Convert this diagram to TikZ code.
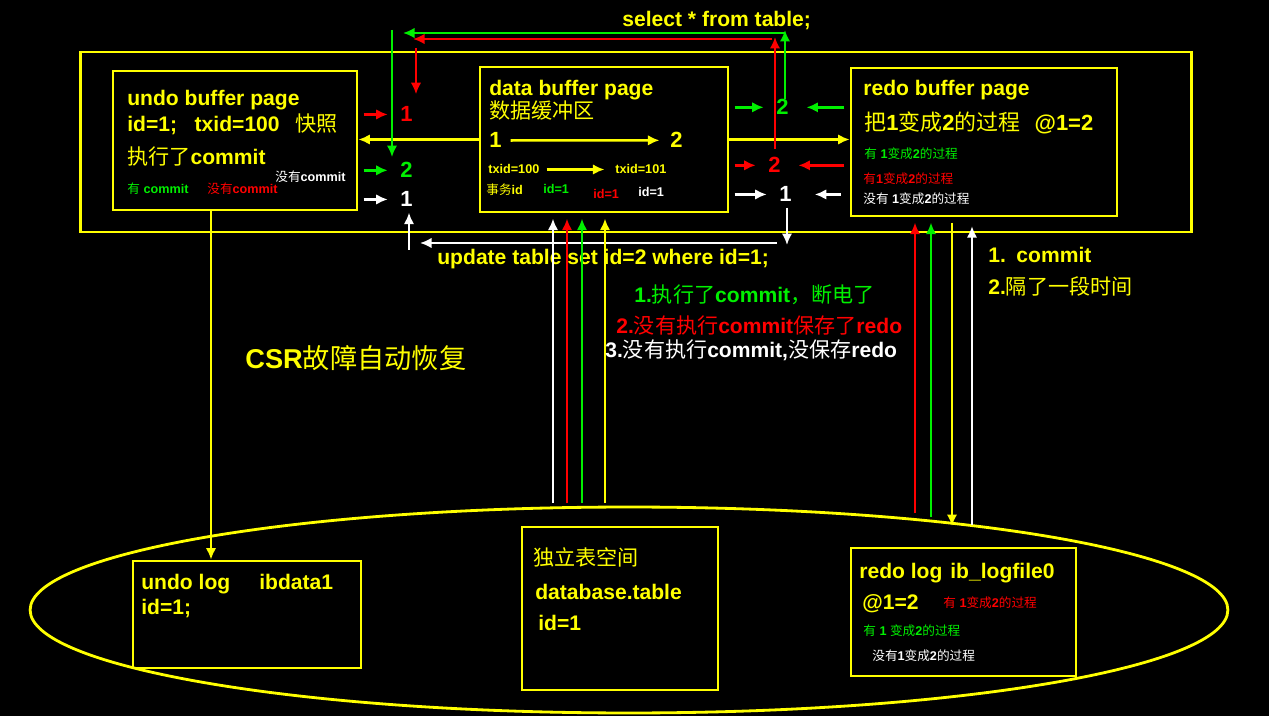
\documentclass[tikz,border=0pt]{standalone}
\usepackage{fontspec}
\setmainfont{Liberation Sans}
\newfontfamily\cjk{Noto Sans CJK SC}
\usepackage{xcolor}
\usetikzlibrary{arrows.meta,shapes.geometric}
\definecolor{hlyellow}{HTML}{FFFF00}
\definecolor{hlgreen}{HTML}{00F000}
\definecolor{hlred}{HTML}{FF0000}
\newcommand{\zh}[1]{{\cjk\mdseries #1}}
\newcommand{\bigfont}{\fontsize{12}{14}\selectfont\bfseries}
\newcommand{\smallfont}{\fontsize{7.2}{8}\selectfont\bfseries}
\tikzset{
  pagebox/.style={rectangle,draw=hlyellow,line width=1.6pt,inner sep=0pt},
  txt/.style={anchor=base west,inner sep=0pt,text=hlyellow,font=\bigfont},
  smalltxt/.style={anchor=base west,inner sep=0pt,font=\smallfont},
  num/.style={anchor=base west,inner sep=0pt,font=\fontsize{12.5}{14}\selectfont\bfseries},
  arrow/.style={-{Latex[length=2.3mm,width=2.1mm]},line width=1.5pt},
  gap/.style={shorten <=3pt,shorten >=7pt}
}

\begin{document}
\begin{tikzpicture}[x=0.02cm,y=-0.02cm]
  \fill[black] (0,0) rectangle (1269,716);
  % buffer pool
  \node[pagebox,minimum width=22.24cm,minimum height=3.6cm] (pool) at (636,142) {};
  \node[pagebox,minimum width=4.88cm,minimum height=2.78cm] (undo) at (235,140.5) {};
  \node[pagebox,minimum width=4.96cm,minimum height=2.9cm] (data) at (604,139.5) {};
  \node[pagebox,minimum width=5.32cm,minimum height=2.96cm] (redo) at (984,142) {};
  % disk
  \node[ellipse,draw=hlyellow,line width=1.6pt,inner sep=0pt,minimum width=23.96cm,minimum height=4.12cm] (disk) at (629,610) {};
  \node[pagebox,minimum width=4.56cm,minimum height=2.14cm] (undolog) at (247,614.5) {};
  \node[pagebox,minimum width=3.92cm,minimum height=3.26cm] (tbspace) at (620,608.5) {};
  \node[pagebox,minimum width=4.5cm,minimum height=2.56cm] (redolog) at (963.5,612) {};

  % undo buffer page
  \node[txt] (undoT) at (127,106) {undo buffer page};
  \node[txt] (undoId) at (127,132) {id=1;\hspace{10pt}txid=100\hspace{9pt}\zh{快照}};
  \node[txt] (undoC) at (127,165) {\zh{执行了}commit};
  \node[smalltxt,text=white] (undoW) at (275,182) {\zh{没有}commit};
  \node[smalltxt,text=hlgreen] (undoG) at (127,194) {\zh{有} commit};
  \node[smalltxt,text=hlred] (undoR) at (207,194) {\zh{没有}commit};

  % data buffer page
  \node[txt] (dataT) at (489,96) {data buffer page};
  \node[txt] (dataZh) at (489,119) {\zh{数据缓冲区}};
  \node[num,text=hlyellow] (d1) at (489,148) {1};
  \node[num,text=hlyellow] (d2) at (670,148) {2};
  \draw[arrow,hlyellow,shorten <=5pt,shorten >=6pt] (d1) -- (d2);
  \node[smalltxt,text=hlyellow] (tx1) at (488,174) {txid=100};
  \node[smalltxt,text=hlyellow] (tx2) at (615,174) {txid=101};
  \draw[arrow,hlyellow,shorten <=4pt,shorten >=6pt] (tx1) -- (tx2);
  \node[smalltxt,text=hlyellow] (txN) at (486,195) {\zh{事务}id};
  \node[smalltxt,text=hlgreen] (idG) at (543,194) {id=1};
  \node[smalltxt,text=hlred] (idR) at (593,199) {id=1};
  \node[smalltxt,text=white] (idW) at (638,197) {id=1};

  % redo buffer page
  \node[txt] (redoT) at (863,96) {redo buffer page};
  \node[txt,font=\fontsize{12.5}{14}\selectfont\bfseries] (redoZh) at (864,131) {\zh{把}1\zh{变成}2\zh{的过程}\hspace{8pt}@1=2};
  \node[smalltxt,text=hlgreen] (redoG) at (864,159) {\zh{有} 1\zh{变成}2\zh{的过程}};
  \node[smalltxt,text=hlred] (redoR) at (863,184) {\zh{有}1\zh{变成}2\zh{的过程}};
  \node[smalltxt,text=white] (redoW) at (863,204) {\zh{没有} 1\zh{变成}2\zh{的过程}};

  % numbers between the pages
  \node[num,text=hlred] (lr1) at (400,122) {1};
  \node[num,text=hlgreen] (lg2) at (400,178) {2};
  \node[num,text=white] (lw1) at (400,207) {1};
  \node[num,text=hlgreen] (rg2) at (776,115) {2};
  \node[num,text=hlred] (rr2) at (768,173) {2};
  \node[num,text=white] (rw1) at (779,202) {1};

  \draw[arrow,hlred,gap] (undo.east |- lr1) -- (lr1.west);
  \draw[arrow,hlgreen,gap] (undo.east |- lg2) -- (lg2.west);
  \draw[arrow,white,gap] (undo.east |- lw1) -- (lw1.west);
  \draw[arrow,hlyellow] (data.west) -- (data.west -| undo.east);
  \draw[arrow,hlyellow] (data.east) -- (data.east -| redo.west);
  \draw[arrow,hlgreen,gap] (data.east |- rg2) -- (rg2.west);
  \draw[arrow,hlred,gap] (data.east |- rr2) -- (rr2.west);
  \draw[arrow,white,gap] (data.east |- rw1) -- (rw1.west);
  \draw[arrow,hlgreen,gap,shorten >=10pt] (redo.west |- rg2) -- (rg2.east);
  \draw[arrow,hlred,gap,shorten >=10pt] (redo.west |- rr2) -- (rr2.east);
  \draw[arrow,white,shorten <=5pt,shorten >=13pt] (redo.west |- rw1) -- (rw1.east);

  % select * from table;
  \node[txt] (selT) at (622,27) {select * from table;};
  \coordinate (gUp) at (785,30);
  \coordinate (gTopR) at (785,33);
  \coordinate (gTopL) at (403,33);
  \coordinate (gDown) at (392,30);
  \draw[arrow,hlgreen] (rg2.north -| gUp) -- (gUp);
  \draw[arrow,hlgreen] (gTopR) -- (gTopL);
  \draw[arrow,hlgreen,shorten >=3pt] (gDown) -- (gDown |- lg2.north);
  \coordinate (rUp) at (775,37);
  \coordinate (rTopR) at (772,39);
  \coordinate (rTopL) at (413,39);
  \coordinate (rDown) at (416,48);
  \draw[arrow,hlred,shorten <=5pt] (rr2.north -| rUp) -- (rUp);
  \draw[arrow,hlred] (rTopR) -- (rTopL);
  \draw[arrow,hlred,shorten >=7pt] (rDown) -- (rDown |- lr1.north);

  % update table set id=2 where id=1;
  \node[txt] (updT) at (437,265) {update table set id=2 where id=1;};
  \coordinate (wDown) at (787,245);
  \coordinate (wLineR) at (777,243);
  \coordinate (wLineL) at (420,243);
  \coordinate (wUp) at (409,250);
  \draw[arrow,white,shorten <=3pt] (rw1.south -| wDown) -- (wDown);
  \draw[arrow,white] (wLineR) -- (wLineL);
  \draw[arrow,white,shorten >=3pt] (wUp) -- (wUp |- lw1.south);

  % disk <-> buffer pool
  \foreach \xx/\cc [count=\i] in {553/white,567/hlred,582/hlgreen,605/hlyellow}{
    \coordinate (dbup\i) at (\xx,503);
    \draw[arrow,\cc,shorten >=3pt] (dbup\i) -- (dbup\i |- data.south);
  }
  \coordinate (lgR) at (915,513);
  \coordinate (lgG) at (931,517);
  \coordinate (lgY) at (952,526);
  \coordinate (lgW) at (972,525);
  \draw[arrow,hlred,shorten >=3pt] (lgR) -- (lgR |- redo.south);
  \draw[arrow,hlgreen,shorten >=3pt] (lgG) -- (lgG |- redo.south);
  \draw[arrow,hlyellow,shorten <=3pt] (lgY |- redo.south) -- (lgY);
  \draw[arrow,white,shorten >=5pt] (lgW) -- (lgW |- redo.south);
  \coordinate (undoCol) at (211,0);
  \draw[arrow,hlyellow] (undo.south -| undoCol) -- (undolog.north -| undoCol);

  % notes
  \node[txt,text=hlgreen] (note1) at (634,303) {1.\zh{执行了}commit\zh{，断电了}};
  \node[txt,text=hlred] (note2) at (616,334) {2.\zh{没有执行}commit\zh{保存了}redo};
  \node[txt,text=white] (note3) at (605,358) {3.\zh{没有执行}commit,\zh{没保存}redo};
  \node[txt,font=\fontsize{15.5}{18}\selectfont\bfseries] (csr) at (245,369) {CSR\zh{故障自动恢复}};
  \node[txt] (step1) at (988,263) {1.\hspace{6pt}commit};
  \node[txt] (step2) at (988,295) {2.\zh{隔了一段时间}};

  % disk files
  \node[txt] (ulogT) at (141,589) {undo log};
  \node[txt] (ulogF) at (259,589) {ibdata1};
  \node[txt] (ulogId) at (141,614) {id=1;};
  \node[txt] (tbsT) at (533,565) {\zh{独立表空间}};
  \node[txt] (tbsN) at (535,599) {database.table};
  \node[txt] (tbsId) at (538,630) {id=1};
  \node[txt] (rlogT) at (859,579) {redo log};
  \node[txt] (rlogF) at (950,579) {ib\_logfile0};
  \node[txt] (rlogAt) at (862,609) {@1=2};
  \node[smalltxt,text=hlred] (rlogR) at (943,607) {\zh{有} 1\zh{变成}2\zh{的过程}};
  \node[smalltxt,text=hlgreen] (rlogG) at (863,635) {\zh{有} 1 \zh{变成}2\zh{的过程}};
  \node[smalltxt,text=white] (rlogW) at (872,660) {\zh{没有}1\zh{变成}2\zh{的过程}};
\end{tikzpicture}
\end{document}
